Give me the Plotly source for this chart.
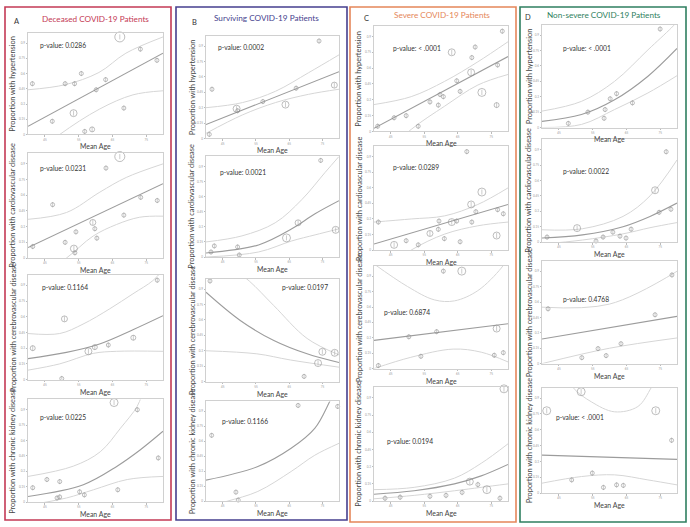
import plotly.graph_objects as go

W, H = 690, 527

# ---------------- data (Mean Age, proportion, marker size) ----------------
# Column A: Deceased
A1_x = [67.2, 73.3, 78.2, 55.8, 63.0, 41.3, 51.0, 53.8, 60.2, 68.4, 53.5, 47.2, 56.8, 59.0]
A1_y = [.96, .84, .73, .60, .54, .50, .50, .50, .44, .26, .21, .13, .03, .05]
A1_s = [10, 4, 4, 4, 4, 4, 4, 4, 4, 4, 7, 4, 4, 5]
A1_fx, A1_fy = [40, 80], [.08, .80]
A1_ux, A1_uy = [40, 51, 61, 69, 80], [.44, .49, .61, .80, .96]
A1_lx, A1_ly = [40, 49.4, 61.2, 71.1, 80], [-.25, 0, .25, .39, .43]

A2_x = [67.2, 63.1, 47.3, 73.4, 78.3, 68.4, 59.2, 54.2, 59.8, 60.4, 51.0, 41.4, 53.6, 53.9]
A2_y = [.97, .86, .51, .58, .55, .41, .34, .25, .28, .19, .15, .11, .09, .05]
A2_s = [10, 4, 4, 4, 4, 4, 6, 4, 4, 4, 4, 4, 7, 4]
A2_fx, A2_fy = [40, 80], [.10, .71]
A2_ux, A2_uy = [40, 51.4, 61.3, 69.1, 80], [.37, .435, .63, .77, .90]
A2_lx, A2_ly = [44, 51.4, 59.3, 66.2, 73.1, 80], [-.15, 0, .21, .32, .39, .40]

A3_x = [78.3, 50.8, 41.4, 57.9, 59.8, 63.8, 71.2, 50.0]
A3_y = [.95, .58, .30, .27, .31, .33, .40, .01]
A3_s = [4, 6, 5, 7, 5, 4, 5, 4]
A3_fx, A3_fy = [40, 51.4, 61.2, 71.1, 80], [.20, .26, .34, .476, .61]
A3_ux, A3_uy = [40, 49.4, 56.3, 64.2, 71.1, 77, 80], [.44, .44, .53, .676, .82, .946, 1.05]
A3_lx, A3_ly = [40, 49.4, 59.3, 66.2, 80], [.09, .15, .25, .27, .27]

A4_x = [65.5, 72.4, 78.6, 45.6, 49.4, 41.4, 55.3, 56.7, 66.6, 49.4, 48.6]
A4_y = [.97, .90, .43, .22, .20, .14, .10, .07, .12, .05, .04]
A4_s = [8, 4, 4, 4, 4, 4, 4, 4, 4, 4, 4]
A4_fx, A4_fy = [40, 56.4, 66.4, 73.3, 80], [.055, .17, .35, .51, .69]
A4_ux, A4_uy = [40, 53.4, 61.4, 67.4, 72.3, 73.8], [.25, .35, .49, .72, .93, 1.05]
A4_lx, A4_ly = [40, 51.4, 59.4, 69.4, 80], [-.03, .04, .12, .22, .25]

# Column B: Surviving
B1_x = [74.0, 41.8, 78.6, 67.1, 57.1, 49.2, 49.5, 63.9, 41.0]
B1_y = [.95, .48, .52, .49, .36, .29, .27, .33, .04]
B1_s = [4, 4, 6, 4, 4, 7, 4, 7, 4]
B1_fx, B1_fy = [40, 80], [.136, .65]
B1_ux, B1_uy = [40, 51, 60.9, 70.8, 80], [.30, .35, .46, .64, .815]
B1_lx, B1_ly = [40, 51, 60.9, 70.8, 80], [.05, .23, .35, .43, .48]

B2_x = [74.5, 67.7, 64.2, 79.0, 42.5, 49.5, 41.5, 50.0]
B2_y = [.96, .34, .19, .27, .11, .10, .05, .02]
B2_s = [4, 6, 8, 7, 4, 4, 4, 4]
B2_fx, B2_fy = [40, 55.8, 65.8, 72.8, 80], [.04, .12, .28, .43, .56]
B2_ux, B2_uy = [40, 50.8, 60.8, 68.8, 75.8, 80], [.15, .21, .34, .57, .84, 1.0]
B2_lx, B2_ly = [40, 55.8, 65.8, 72.8, 80], [0, .05, .16, .22, .28]

B3_x = [41.2, 75.0, 78.7, 73.7, 69.5]
B3_y = [.98, .29, .28, .18, .05]
B3_s = [4, 7, 7, 7, 4]
B3_fx, B3_fy = [40, 50.3, 60.4, 70.4, 80], [.87, .595, .40, .27, .185]
B3_ux, B3_uy = [48, 53, 60.4, 70.4, 80], [1.1, .98, .74, .42, .26]
B3_lx, B3_ly = [40, 55.3, 65.4, 80], [.30, .27, .21, .14]

B4_x = [67.7, 79.6, 41.7, 49.0, 49.7]
B4_y = [.96, .95, .66, .09, .01]
B4_s = [4, 4, 4, 4, 4]
B4_fx, B4_fy = [40, 55.6, 65.6, 72.7, 77.2, 80], [.21, .347, .53, .73, 1.0, 1.2]
B4_ux, B4_uy = [], []
B4_lx, B4_ly = [40, 46.5, 55.6, 65.6, 72.7, 80], [-.06, 0, .097, .297, .46, .58]

# Column C: Severe
C1_x = [78.3, 70.2, 63.2, 69.2, 76.9, 69.0, 64.7, 72.2, 65.7, 59.7, 60.7, 56.7, 59.2, 76.6, 49.6, 46.0, 53.2, 41.1]
C1_y = [.95, .80, .75, .70, .63, .56, .48, .37, .38, .35, .33, .28, .25, .25, .15, .13, .05, .05]
C1_s = [4, 4, 7, 4, 4, 7, 4, 8, 4, 4, 4, 4, 4, 5, 4, 4, 4, 4]
C1_fx, C1_fy = [40, 80], [.03, .71]
C1_ux, C1_uy = [40, 51.1, 61.1, 71.0, 80], [.255, .33, .475, .66, .85]
C1_lx, C1_ly = [40, 51.1, 61.1, 71.0, 80], [-.3, .02, .24, .44, .54]

C2_x = [67.7, 72.2, 69.0, 70.4, 76.9, 78.6, 59.4, 63.2, 64.7, 69.2, 59.2, 41.3, 56.7, 61.0, 49.6, 65.7, 76.6, 46.0, 53.2]
C2_y = [.95, .56, .44, .37, .39, .35, .28, .27, .28, .27, .20, .27, .16, .11, .09, .08, .14, .05, .05]
C2_s = [4, 8, 7, 4, 4, 4, 4, 7, 4, 4, 4, 4, 6, 4, 4, 4, 7, 7, 4]
C2_fx, C2_fy = [40, 80], [.058, .44]
C2_ux, C2_uy = [40, 51.1, 61.1, 71.0, 80], [.27, .30, .33, .44, .60]
C2_lx, C2_ly = [40, 51.1, 61.1, 71.0, 80], [-.25, 0, .154, .234, .27]

C3_x = [60.7, 66.2, 76.6, 58.7, 50.4, 54.0, 75.9, 78.6, 41.3]
C3_y = [.95, .95, .39, .36, .31, .12, .13, .155, .03]
C3_s = [4, 8, 7, 4, 4, 4, 4, 4, 4]
C3_fx, C3_fy = [40, 80], [.275, .437]
C3_ux, C3_uy = [40, 50, 58, 64, 71, 78, 80], [1.02, .80, .67, .66, .76, .98, 1.08]
C3_lx, C3_ly = [40, 51, 63.6, 72, 80], [0, .11, .19, .16, .065]

C4_x = [78.8, 68.6, 73.7, 71.0, 66.3, 61.5, 56.7, 47.8, 43.3, 77.6]
C4_y = [.98, .17, .10, .144, .076, .05, .042, .034, .025, .025]
C4_s = [8, 7, 8, 4, 4, 4, 4, 4, 4, 4]
C4_fx, C4_fy = [40, 52, 64, 72, 80], [.06, .09, .15, .22, .32]
C4_ux, C4_uy = [40, 52, 64, 72, 80], [.10, .12, .20, .33, .50]
C4_lx, C4_ly = [40, 52, 64, 72, 80], [.02, .05, .09, .12, .15]

# Column D: Non-severe
D1_x = [75.0, 62.1, 60.2, 66.8, 58.7, 53.6, 58.4, 47.8]
D1_y = [.96, .33, .28, .24, .175, .15, .09, .04]
D1_s = [4, 4, 4, 4, 4, 4, 4, 4]
D1_fx, D1_fy = [40, 51.7, 61.5, 71.4, 80], [.06, .126, .27, .50, .77]
D1_ux, D1_uy = [40, 51.7, 61.5, 71.4, 78.3, 80], [.16, .255, .45, .757, .97, 1.03]
D1_lx, D1_ly = [40, 51.7, 61.5, 71.4, 80], [0, .03, .175, .337, .505]

D2_x = [76.8, 73.5, 74.7, 78.2, 50.4, 41.5, 58.1, 61.0, 63.1, 64.9, 66.4, 56.0]
D2_y = [.88, .505, .29, .32, .136, .049, .049, .097, .058, .039, .126, .01]
D2_s = [4, 7, 4, 4, 7, 4, 4, 4, 4, 4, 4, 4]
D2_fx, D2_fy = [40, 52, 64, 72, 80], [.04, .07, .15, .25, .38]
D2_ux, D2_uy = [40, 52, 64, 72, 80], [.12, .13, .25, .45, .80]
D2_lx, D2_ly = [40, 52, 64, 72, 80], [-.02, .02, .08, .14, .19]

D3_x = [78.5, 41.8, 73.5, 63.4, 56.6, 59.0, 51.8]
D3_y = [.864, .534, .476, .194, .146, .078, .058]
D3_s = [4, 4, 4, 4, 4, 4, 4]
D3_fx, D3_fy = [40, 80], [.24, .46]
D3_ux, D3_uy = [40, 60, 80], [.55, .58, .90]
D3_lx, D3_ly = [40, 60, 80], [0, .15, .25]

D4_x = [51.6, 41.4, 73.7, 78.4, 54.9, 48.8, 62.1, 64.1, 58.2]
D4_y = [.96, .78, .78, .50, .19, .125, .078, .073, .054]
D4_s = [8, 8, 8, 4, 4, 4, 4, 4, 4]
D4_fx, D4_fy = [40, 80], [.36, .32]
D4_ux, D4_uy = [47, 49.2, 54.6, 61.5, 68.4, 72.4, 75], [1.15, 1.0, .865, .77, .82, 1.0, 1.15]
D4_lx, D4_ly = [40, 51.7, 61.5, 71.4, 80], [.094, .157, .173, .125, .078]

column_titles = ["Deceased COVID-19 Patients", "Surviving COVID-19 Patients",
                 "Severe COVID-19 Patients", "Non-severe COVID-19 Patients"]
column_letters = ["A", "B", "C", "D"]
row_labels = ["Proportion with hypertension", "Proportion with cardiovascular disease",
              "Proportion with cerebrovascular disease", "Proportion with chronic kidney disease"]
p_values = {
    "A": ["0.0286", "0.0231", "0.1164", "0.0225"],
    "B": ["0.0002", "0.0021", "0.0197", "0.1166"],
    "C": ["< .0001", "0.0289", "0.6874", "0.0194"],
    "D": ["< .0001", "0.0022", "0.4768", "< .0001"],
}

G = globals()

# ---------------- layout geometry (pixels) ----------------
col_color = {"A": "#c43a55", "B": "#463f8e", "C": "#e5875a", "D": "#2f7f60"}
col_frame = {"A": (5, 171), "B": (176, 347), "C": (350, 516), "D": (520, 686)}
col_frame_y = {"A": (7, 522), "B": (7, 522), "C": (7, 524), "D": (7, 524)}
col_title_pos = {"A": (95, 19), "B": (266, 18), "C": (442, 15), "D": (604, 15)}
col_letter_pos = {"A": (17, 22), "B": (194, 23), "C": (366, 19), "D": (528, 18)}
col_x = {"A": (28, 163), "B": (206, 339), "C": (374, 508), "D": (542, 677)}
col_rows = {
    "A": [(33, 135), (154, 259), (276, 381), (401, 504)],
    "B": [(36, 139), (157, 258), (280, 383), (403, 503)],
    "C": [(26, 132), (147, 251), (267, 370), (388, 503)],
    "D": [(25, 128), (140, 243), (262, 365), (389, 495)],
}
meanage_y = {"A": [147, 271, 393, 516], "B": [151, 270, 395, 515],
             "C": [144, 263, 382, 515], "D": [140, 255, 377, 507]}
ylab_x = {"A": 13, "B": 192, "C": 359, "D": 529}
pval_pos = {
    "A": [(38, 45), (38, 169), (40, 288), (38, 419)],
    "B": [(216, 47), (218, 173), (280, 288), (220, 423)],
    "C": [(391, 48), (391, 168), (382, 313), (385, 443)],
    "D": [(561, 48), (561, 172), (561, 300), (554, 419)],
}

FONT = "Lato"
def px(x): return x / W
def py(y): return 1 - y / H

def label(text, x, y, size, color, xanchor="center", angle=0):
    return dict(text=text, x=px(x), y=py(y), xref="paper", yref="paper",
                xanchor=xanchor, yanchor="middle", showarrow=False, textangle=angle,
                font=dict(size=size, color=color, family=FONT))

fig = go.Figure()
layout = dict(width=W, height=H, margin=dict(l=0, r=0, t=0, b=0),
              paper_bgcolor="white", plot_bgcolor="white", showlegend=False,
              font=dict(family=FONT))
annotations, shapes = [], []

idx = 0
for ci, c in enumerate(["A", "B", "C", "D"]):
    color = col_color[c]
    x0, x1 = col_frame[c]
    y0, y1 = col_frame_y[c]
    shapes.append(dict(type="rect", xref="paper", yref="paper",
                       x0=px(x0), x1=px(x1), y0=py(y1), y1=py(y0),
                       line=dict(color=color, width=1.6)))
    tx, ty = col_title_pos[c]
    annotations.append(label(column_titles[ci], tx, ty, 8.2, color))
    lx, ly = col_letter_pos[c]
    annotations.append(label(column_letters[ci], lx, ly, 7.5, "#333"))
    for r in range(4):
        idx += 1
        key = f"{c}{r+1}"
        xa = "x" if idx == 1 else f"x{idx}"
        ya = "y" if idx == 1 else f"y{idx}"
        bx0, bx1 = col_x[c]
        by0, by1 = col_rows[c][r]
        layout["xaxis" if idx == 1 else f"xaxis{idx}"] = dict(
            domain=[px(bx0), px(bx1)], anchor=ya, range=[40, 80],
            tickvals=[45, 55, 65, 75], ticks="outside", ticklen=1.5, tickcolor="#bbb",
            tickfont=dict(size=3, color="#999"), showline=True, linecolor="#d0d0d0",
            linewidth=1, mirror=True, showgrid=False, zeroline=False)
        layout["yaxis" if idx == 1 else f"yaxis{idx}"] = dict(
            domain=[py(by1), py(by0)], anchor=xa, range=[0, 1],
            dtick=0.15, ticks="outside", ticklen=1.5, tickcolor="#bbb",
            tickfont=dict(size=3, color="#999"), showline=True, linecolor="#d0d0d0",
            linewidth=1, mirror=True, showgrid=False, zeroline=False)
        for sx, sy in [(G[key + "_ux"], G[key + "_uy"]), (G[key + "_lx"], G[key + "_ly"])]:
            if sx:
                fig.add_trace(go.Scatter(x=sx, y=sy, mode="lines", xaxis=xa, yaxis=ya,
                                         line=dict(color="#d6d6d6", width=1, shape="spline"),
                                         hoverinfo="skip"))
        fig.add_trace(go.Scatter(x=G[key + "_fx"], y=G[key + "_fy"], mode="lines", xaxis=xa, yaxis=ya,
                                 line=dict(color="#9c9c9c", width=1.1, shape="spline"),
                                 hoverinfo="skip"))
        fig.add_trace(go.Scatter(x=G[key + "_x"], y=G[key + "_y"], mode="markers", xaxis=xa, yaxis=ya,
                                 cliponaxis=False,
                                 marker=dict(size=G[key + "_s"], symbol="circle-open",
                                             color="#8a8a8a", line=dict(width=0.8, color="#8a8a8a")),
                                 error_y=dict(type="constant", value=0.025, thickness=0.6,
                                              width=0, color="#aaaaaa")))
        vx, vy = pval_pos[c][r]
        annotations.append(label("p-value: " + p_values[c][r], vx, vy, 6.7, "#333", xanchor="left"))
        annotations.append(label("Mean Age", (bx0 + bx1) / 2, meanage_y[c][r], 6.9, "#444"))
        annotations.append(label(row_labels[r], ylab_x[c], (by0 + by1) / 2, 7.4, "#444", angle=-90))

layout["annotations"] = annotations
layout["shapes"] = shapes
fig.update_layout(**layout)
fig.write_html("out.html", config={"displayModeBar": False},
               post_script="document.body.style.margin='0';document.body.style.overflow='hidden';")
